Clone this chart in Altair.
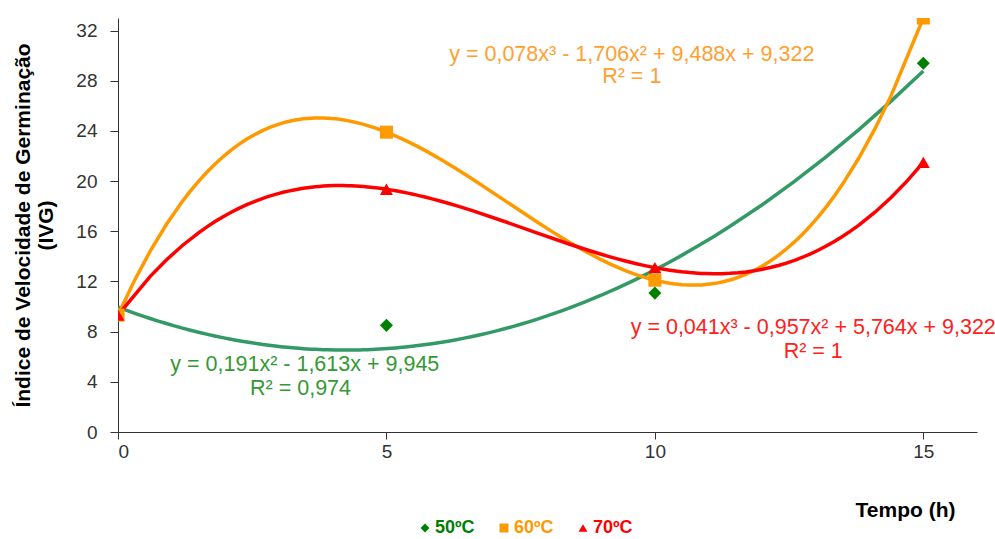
import altair as alt
import pandas as pd

# ---- data ----
tempo = [0, 5, 10, 15]
series = ["50ºC", "60ºC", "70ºC"]
ivg_50 = [9.33, 8.5, 11.07, 29.4]
ivg_60 = [9.32, 23.9, 12.1, 33.0]
ivg_70 = [9.32, 19.35, 13.1, 21.5]

x_ticks = [0, 5, 10, 15]
y_ticks = [0, 4, 8, 12, 16, 20, 24, 28, 32]

eq_labels = [
    "y = 0,191x² - 1,613x + 9,945", "R² = 0,974",
    "y = 0,078x³ - 1,706x² + 9,488x + 9,322", "R² = 1",
    "y = 0,041x³ - 0,957x² + 5,764x + 9,322", "R² = 1",
]

# ---- layout / style (not data) ----
FONT = "Liberation Sans"
marker_colors = ["#008000", "#FF9900", "#FF0000"]
line_colors = {"50ºC": "#339966", "60ºC": "#FF9900", "70ºC": "#FF0000"}
text_colors = ["#339933", "#339933", "#FFA030", "#FFA030", "#FF2020", "#FF2020"]
eq_x = [3.48, 3.40, 9.57, 9.57, 12.95, 12.95]
eq_y = [5.34, 3.43, 30.06, 28.3, 8.29, 6.38]

rows = []
for s, vals in zip(series, [ivg_50, ivg_60, ivg_70]):
    for t, v in zip(tempo, vals):
        rows.append({"tempo": t, "ivg": v, "serie": s})
df = pd.DataFrame(rows)

ann = pd.DataFrame({"tempo": eq_x, "ivg": eq_y, "label": eq_labels, "cor": text_colors})

x_enc = alt.X(
    "tempo:Q",
    scale=alt.Scale(domain=[0, 16], nice=False, zero=False),
    axis=alt.Axis(
        values=x_ticks, title="Tempo (h)", format="d",
        labelFontSize=19, labelFont=FONT, labelColor="#333333", labelPadding=3,
        tickSize=7, tickColor="#333333", domainColor="#333333",
        titleFont=FONT, titleFontSize=21, titleFontWeight="bold", titleColor="#000000",
        titleX=787, titleY=78, titleAlign="center", titleBaseline="middle",
        grid=False,
    ),
)
y_enc = alt.Y(
    "ivg:Q",
    scale=alt.Scale(domain=[0, 33], nice=False),
    axis=alt.Axis(
        values=y_ticks, format="d",
        title=["Índice de Velocidade de Germinação", "(IVG)"],
        labelFontSize=19, labelFont=FONT, labelColor="#333333", labelPadding=13,
        tickSize=8, tickColor="#333333", domainColor="#333333",
        titleFont=FONT, titleFontSize=21, titleFontWeight="bold", titleColor="#000000",
        titleAngle=-90, titleX=-106, titleY=207, titleAlign="center",
        titleBaseline="top", titleLineHeight=23,
        grid=False,
    ),
)

base = alt.Chart(df)

line50 = (
    base.transform_filter("datum.serie == '50ºC'")
    .transform_regression("tempo", "ivg", method="poly", order=2, extent=[0, 15])
    .mark_line(clip=True, strokeWidth=3.5, color=line_colors["50ºC"])
    .encode(x=x_enc, y=y_enc)
)
line60 = (
    base.transform_filter("datum.serie == '60ºC'")
    .transform_regression("tempo", "ivg", method="poly", order=3, extent=[0, 15])
    .mark_line(clip=True, strokeWidth=3.5, color=line_colors["60ºC"])
    .encode(x="tempo:Q", y="ivg:Q")
)
line70 = (
    base.transform_filter("datum.serie == '70ºC'")
    .transform_regression("tempo", "ivg", method="poly", order=3, extent=[0, 15])
    .mark_line(clip=True, strokeWidth=3.5, color=line_colors["70ºC"])
    .encode(x="tempo:Q", y="ivg:Q")
)

label_color_expr = (
    "datum.label == '50ºC' ? '#008000' : (datum.label == '60ºC' ? '#FF9900' : '#FF0000')"
)
leg = alt.Legend(
    title=None, orient="none", legendX=298, legendY=501, direction="horizontal",
    labelFont=FONT, labelFontSize=18, labelFontWeight="bold",
    labelColor={"expr": label_color_expr},
    symbolSize=80, symbolStrokeWidth=0, columnPadding=20, labelOffset=1,
)

points = base.mark_point(filled=True, opacity=1, size=170, clip=True).encode(
    x="tempo:Q",
    y="ivg:Q",
    color=alt.Color("serie:N", scale=alt.Scale(domain=series, range=marker_colors), legend=leg),
    shape=alt.Shape("serie:N", scale=alt.Scale(domain=series, range=["diamond", "square", "triangle-up"]), legend=leg),
)

texts = alt.Chart(ann).mark_text(font=FONT, fontSize=21.5, align="center", baseline="middle").encode(
    x="tempo:Q", y="ivg:Q", text="label:N", color=alt.Color("cor:N", scale=None)
)

chart = (
    alt.layer(line50, line60, line70, points, texts)
    .properties(
        width=859, height=414,
        autosize=alt.AutoSizeParams(type="none"),
        padding={"left": 118, "top": 18, "right": 18, "bottom": 107},
        background="white",
    )
    .configure_view(stroke=None)
)

chart.save("out.html", embed_options={"renderer": "svg", "actions": False})
